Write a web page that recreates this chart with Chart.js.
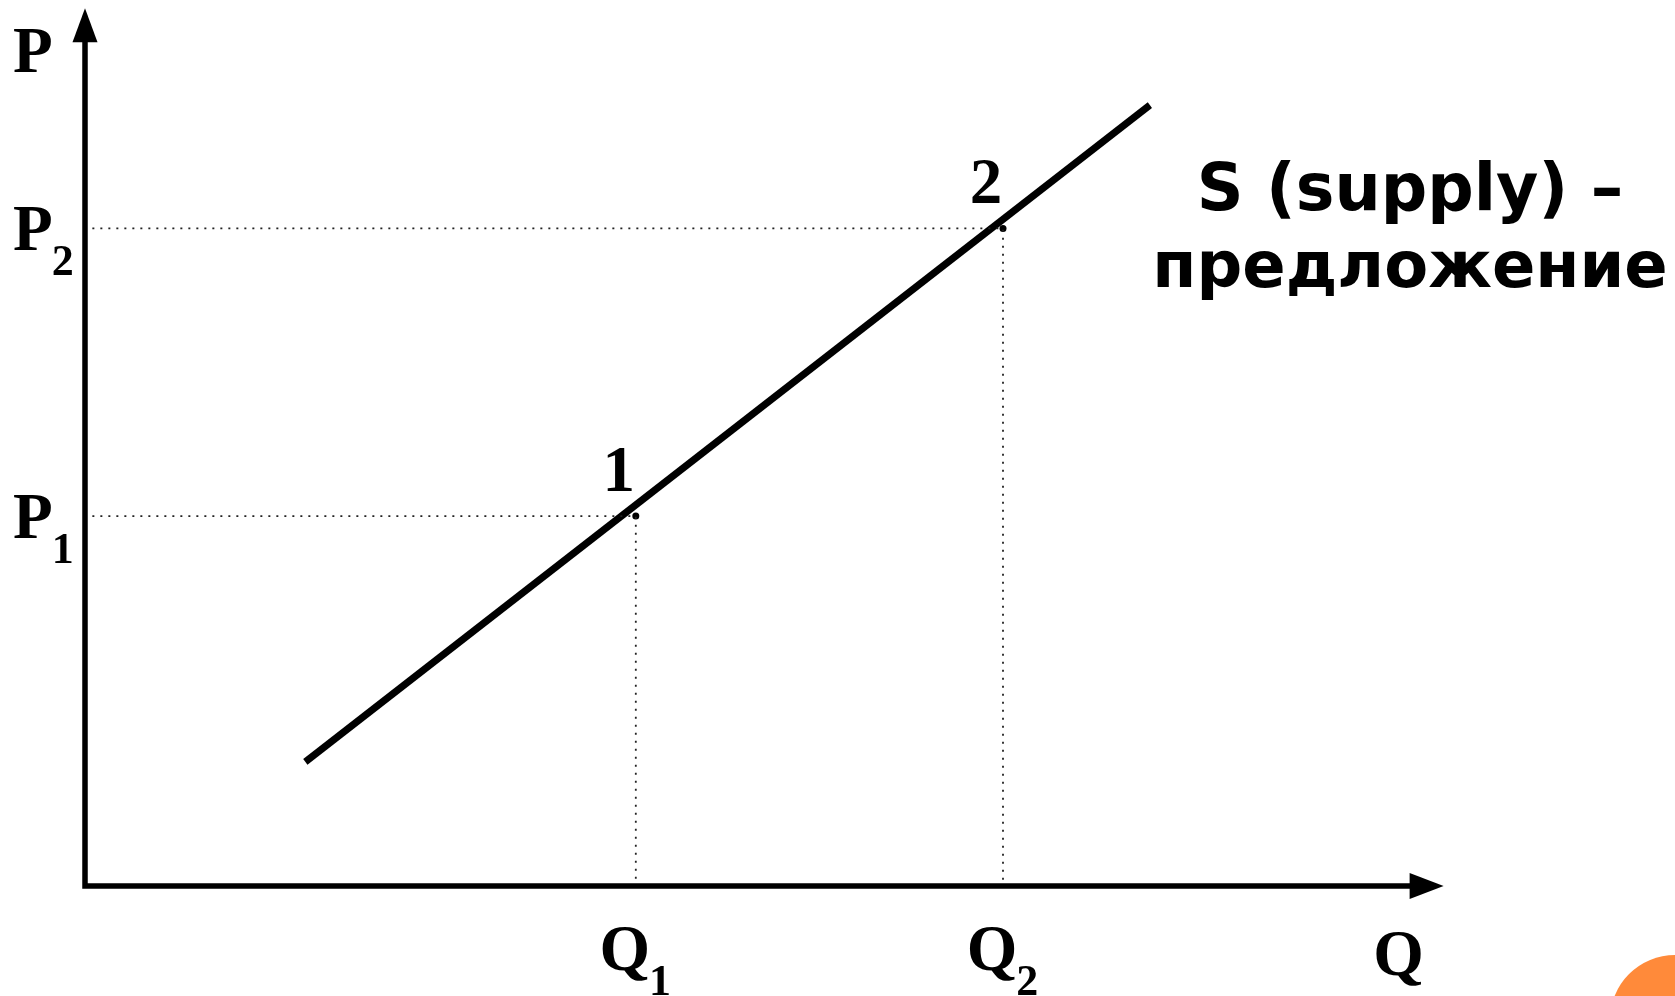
<!DOCTYPE html>
<html>
<head>
<meta charset="utf-8">
<script src="https://cdn.jsdelivr.net/npm/chart.js@4.4.1/dist/chart.umd.min.js"></script>
<style>
  html, body { margin: 0; padding: 0; background: #ffffff; }
  #wrap { width: 1675px; height: 996px; position: relative; overflow: hidden; }
  canvas { display: block; }
</style>
</head>
<body>
<div id="wrap"><canvas id="c" width="1675" height="996"></canvas></div>
<script>
// ---- data ----
const supplyQ = [1.2, 5.8];
const supplyP = [1.51, 9.5];
const qTicks = [3, 5];
const qTickMain = ['Q', 'Q'];
const qTickSub = ['1', '2'];
const pTicks = [4.5, 8];
const pTickMain = ['P', 'P'];
const pTickSub = ['1', '2'];
const pointLabels = ['1', '2'];
const axisTitles = ['P', 'Q'];
const axisEnds = [7.4, 10.68];   // x-axis arrow tip, y-axis arrow tip
const supplyLabelLines = ['S (supply) \u2013', '\u043f\u0440\u0435\u0434\u043b\u043e\u0436\u0435\u043d\u0438\u0435'];

// ---- datasets built from the arrays ----
const guideSets = qTicks.map((q, i) => ({
  label: 'guide' + i,
  data: [{x: 0.04, y: pTicks[i]}, {x: q, y: pTicks[i]}, {x: q, y: 0}],
  showLine: true,
  borderColor: '#222',
  borderWidth: 1.8,
  borderDash: [2, 6],
  pointRadius: 0,
  fill: false,
  clip: false
}));

const supplySet = {
  label: 'S',
  data: supplyQ.map((q, i) => ({x: q, y: supplyP[i]})),
  showLine: true,
  borderColor: '#000',
  borderWidth: 7,
  borderCapStyle: 'butt',
  pointRadius: 0,
  fill: false,
  clip: false
};

const pointSet = {
  label: 'points',
  data: qTicks.map((q, i) => ({x: q, y: pTicks[i]})),
  showLine: false,
  pointRadius: 3.5,
  pointBackgroundColor: '#000',
  pointBorderWidth: 0,
  clip: false
};

const SERIF = '"Liberation Serif", "Times New Roman", serif';

const decorPlugin = {
  id: 'decor',
  afterDatasetsDraw(chart) {
    const ctx = chart.ctx;
    const xs = chart.scales.x, ys = chart.scales.y;
    const ox = xs.getPixelForValue(0), oy = ys.getPixelForValue(0);
    const xTip = xs.getPixelForValue(axisEnds[0]);
    const yTip = ys.getPixelForValue(axisEnds[1]);
    ctx.save();
    ctx.fillStyle = '#000';
    ctx.strokeStyle = '#000';
    ctx.lineWidth = 5.5;
    ctx.lineCap = 'butt';
    // axes
    ctx.beginPath();
    ctx.moveTo(ox, oy + 2.75); ctx.lineTo(ox, yTip + 30);
    ctx.moveTo(ox - 2.75, oy); ctx.lineTo(xTip - 30, oy);
    ctx.stroke();
    // arrow heads
    ctx.beginPath();
    ctx.moveTo(ox, yTip); ctx.lineTo(ox - 12.5, yTip + 34); ctx.lineTo(ox + 12.5, yTip + 34); ctx.closePath();
    ctx.fill();
    ctx.beginPath();
    ctx.moveTo(xTip, oy); ctx.lineTo(xTip - 34, oy - 13); ctx.lineTo(xTip - 34, oy + 13); ctx.closePath();
    ctx.fill();

    const mainFont = 'bold 65px ' + SERIF;
    const subFont = 'bold 44px ' + SERIF;
    ctx.textBaseline = 'alphabetic';
    ctx.textAlign = 'left';

    // P tick labels
    pTicks.forEach((p, i) => {
      const y = ys.getPixelForValue(p);
      ctx.font = mainFont;
      const w = ctx.measureText(pTickMain[i]).width;
      ctx.fillText(pTickMain[i], 13, y + 22);
      ctx.font = subFont;
      ctx.fillText(pTickSub[i], 12 + w, y + 47);
    });
    // Q tick labels
    qTicks.forEach((q, i) => {
      const x = xs.getPixelForValue(q);
      ctx.font = mainFont;
      const w1 = ctx.measureText(qTickMain[i]).width;
      ctx.font = subFont;
      const w2 = ctx.measureText(qTickSub[i]).width;
      const start = x - (w1 + w2) / 2;
      ctx.font = mainFont;
      ctx.fillText(qTickMain[i], start, oy + 84);
      ctx.font = subFont;
      ctx.fillText(qTickSub[i], start + w1 - 1, oy + 109);
    });
    // axis titles
    ctx.font = mainFont;
    ctx.fillText(axisTitles[0], 13, yTip + 64);
    ctx.textAlign = 'center';
    ctx.fillText(axisTitles[1], xTip - 45, oy + 89);
    // point labels
    pointLabels.forEach((lab, i) => {
      const x = xs.getPixelForValue(qTicks[i]);
      const y = ys.getPixelForValue(pTicks[i]);
      ctx.fillText(lab, x - 17, y - 25);
    });
    // supply label
    ctx.font = 'bold 65px "DejaVu Sans", Verdana, sans-serif';
    ctx.fillText(supplyLabelLines[0], 1410, 210);
    ctx.font = 'bold 64px "DejaVu Sans", Verdana, sans-serif';
    ctx.fillText(supplyLabelLines[1], 1410, 287);

    // decorative orange circle (slide template)
    ctx.fillStyle = '#FF8A3A';
    ctx.beginPath();
    ctx.arc(1675, 1020, 65, 0, Math.PI * 2);
    ctx.fill();
    ctx.restore();
  }
};

new Chart(document.getElementById('c'), {
  type: 'scatter',
  data: { datasets: [...guideSets, supplySet, pointSet] },
  options: {
    responsive: false,
    animation: false,
    events: [],
    layout: { padding: { left: 85, right: 121.2, top: 6.5, bottom: 110 } },
    plugins: { legend: { display: false }, tooltip: { enabled: false } },
    scales: {
      x: { type: 'linear', min: 0, max: 8, display: false },
      y: { type: 'linear', min: 0, max: 10.7, display: false }
    }
  },
  plugins: [decorPlugin]
});
</script>
</body>
</html>
